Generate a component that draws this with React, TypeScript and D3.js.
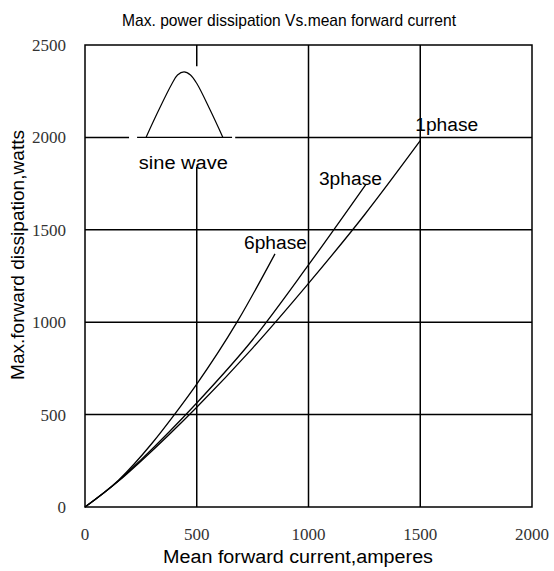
import React from "react";
import * as d3 from "d3";

// mean forward current (A) vs max power dissipation (W)
const phase1 = [
  [0, 0], [150, 140], [250, 248], [500, 540], [750, 860], [1000, 1210], [1250, 1580], [1500, 1982],
];
const phase3 = [
  [0, 0], [150, 142], [250, 255], [500, 563], [750, 905], [1000, 1310], [1257, 1746],
];
const phase6 = [
  [0, 0], [150, 145], [300, 345], [400, 500], [500, 665], [680, 1000], [850, 1370],
];
const seriesLabels = ["1phase", "3phase", "6phase"];
const xTicks = [0, 500, 1000, 1500, 2000];
const yTicks = [0, 500, 1000, 1500, 2000, 2500];
// sine wave pictogram outline, in data units
const sineIcon = [
  [273, 2000], [330, 2148], [389, 2290], [414, 2338], [443, 2355], [472, 2338], [501, 2290], [560, 2148], [617, 2000],
];

const W = 554;
const H = 571;
const margin = { top: 45, right: 22, bottom: 64, left: 85 };

const serif = "'Liberation Serif', 'Times New Roman', serif";
const sans = "'Liberation Sans', Arial, sans-serif";

export default function App() {
  const x = d3.scaleLinear().domain([0, 2000]).range([margin.left, W - margin.right]);
  const y = d3.scaleLinear().domain([0, 2500]).range([H - margin.bottom, margin.top]);

  const line = d3
    .line<number[]>()
    .x((d) => x(d[0]))
    .y((d) => y(d[1]))
    .curve(d3.curveMonotoneX);

  const series = [phase1, phase3, phase6];
  // label offsets from the top end of each curve
  const labelPos = [
    { dx: -5, dy: -10 },
    { dx: -47, dy: 1 },
    { dx: -31, dy: -5 },
  ];

  const iconLine = d3
    .line<number[]>()
    .x((d) => x(d[0]))
    .y((d) => y(d[1]))
    .curve(d3.curveCatmullRom);

  return (
    <svg width={W} height={H} style={{ position: "absolute", left: 0, top: 0, background: "#fff" }}>
      <text x={289} y={26} textAnchor="middle" fontFamily={sans} fontSize={17} textLength={334} lengthAdjust="spacingAndGlyphs">
        Max. power dissipation  Vs.mean  forward  current
      </text>

      {/* grid */}
      {xTicks.slice(1, -1).map((t) => (
        <line key={"gx" + t} x1={x(t)} x2={x(t)} y1={y(0)} y2={y(2500)} stroke="#000" strokeWidth={1.5} />
      ))}
      {yTicks.slice(1, -1).map((t) => (
        <line key={"gy" + t} x1={x(0)} x2={x(2000)} y1={y(t)} y2={y(t)} stroke="#000" strokeWidth={1.5} />
      ))}
      <rect
        x={margin.left}
        y={margin.top}
        width={x(2000) - x(0)}
        height={y(0) - y(2500)}
        fill="none"
        stroke="#000"
        strokeWidth={1.5}
      />

      {/* gap behind sine pictogram */}
      <rect x={x(197)} y={y(2385)} width={x(672) - x(197)} height={y(1840) - y(2385)} fill="#fff" />
      <line x1={x(233)} x2={x(658)} y1={y(2000)} y2={y(2000)} stroke="#000" strokeWidth={1.3} />
      <path d={iconLine(sineIcon) || ""} fill="none" stroke="#000" strokeWidth={1.2} />
      <text x={x(440)} y={y(1827)} textAnchor="middle" fontFamily={sans} fontSize={18} textLength={89} lengthAdjust="spacingAndGlyphs">
        sine wave
      </text>

      {/* curves */}
      {series.map((s, i) => (
        <path key={i} d={line(s) || ""} fill="none" stroke="#000" strokeWidth={1.3} />
      ))}
      {series.map((s, i) => {
        const end = s[s.length - 1];
        return (
          <text
            key={"l" + i}
            x={x(end[0]) + labelPos[i].dx}
            y={y(end[1]) + labelPos[i].dy}
            fontFamily={sans}
            fontSize={18}
            textLength={63}
            lengthAdjust="spacingAndGlyphs"
          >
            {seriesLabels[i]}
          </text>
        );
      })}

      {/* tick labels */}
      {xTicks.map((t) => (
        <text key={"tx" + t} x={x(t)} y={y(0) + 33} textAnchor="middle" fontFamily={serif} fontSize={17} fill="#333">
          {t}
        </text>
      ))}
      {yTicks.map((t) => (
        <text key={"ty" + t} x={x(0) - 19} y={y(t) + 6} textAnchor="end" fontFamily={serif} fontSize={17} fill="#333">
          {t}
        </text>
      ))}

      <text x={298} y={563} textAnchor="middle" fontFamily={sans} fontSize={18} textLength={270} lengthAdjust="spacingAndGlyphs">
        Mean forward  current,amperes
      </text>
      <text
        transform={`translate(24, ${255}) rotate(-90)`}
        textAnchor="middle"
        fontFamily={sans}
        fontSize={18}
        textLength={250}
        lengthAdjust="spacingAndGlyphs"
      >
        Max.forward dissipation,watts
      </text>
    </svg>
  );
}
